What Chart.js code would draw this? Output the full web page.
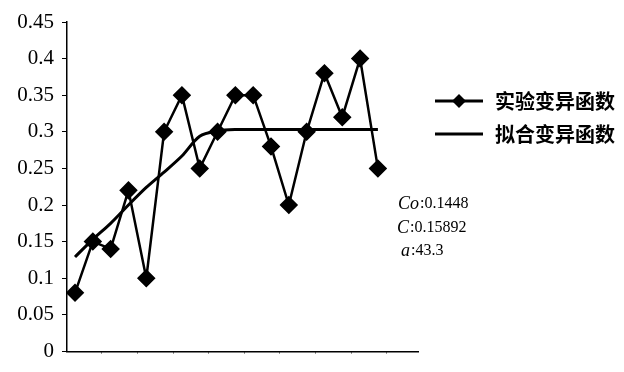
<!DOCTYPE html>
<html>
<head>
<meta charset="utf-8">
<script src="https://cdn.jsdelivr.net/npm/chart.js@4.4.0/dist/chart.umd.min.js"></script>
<style>
  html, body { margin: 0; padding: 0; background: #fff; }
  #wrap { width: 624px; height: 372px; }
</style>
</head>
<body>
<div id="wrap"><canvas id="myChart" width="624" height="372"></canvas></div>
<script>
// lag index of each point
const lags = [1, 2, 3, 4, 5, 6, 7, 8, 9, 10, 11, 12, 13, 14, 15, 16, 17, 18]
// experimental variogram values
const experimental = [0.08, 0.15, 0.14, 0.22, 0.10, 0.30, 0.35, 0.25, 0.30, 0.35, 0.35, 0.28, 0.20, 0.30, 0.38, 0.32, 0.40, 0.25]
// fitted curve
const fitted = [0.129, 0.153, 0.175, 0.200, 0.224, 0.245, 0.267, 0.294, 0.301, 0.303, 0.303, 0.303, 0.303, 0.303, 0.303, 0.303, 0.303, 0.303]
const seriesNames = ['实验变异函数', '拟合变异函数']
const yTicks = [0, 0.05, 0.1, 0.15, 0.2, 0.25, 0.3, 0.35, 0.4, 0.45]
const xTicks = [2.5, 4.5, 6.5, 8.5, 10.5, 12.5, 14.5, 16.5, 18.5]
const params = [['Co', ':0.1448'], ['C', ':0.15892'], ['a', ':43.3']]

const serif = '"Liberation Serif", "DejaVu Serif", serif'
const cjk = '"Noto Sans CJK SC", sans-serif'

// legend + parameter text drawn beside the plot
const sidePlugin = {
    id: 'side',
    afterDraw(chart) {
        const ctx = chart.ctx
        ctx.save()
        ctx.strokeStyle = '#000'
        ctx.fillStyle = '#000'
        // legend rows
        const rows = [101, 134]
        rows.forEach((y, i) => {
            ctx.lineWidth = 3
            ctx.beginPath()
            ctx.moveTo(435, y)
            ctx.lineTo(483, y)
            ctx.stroke()
            if (i === 0) {
                ctx.beginPath()
                ctx.moveTo(459, y - 7)
                ctx.lineTo(466, y)
                ctx.lineTo(459, y + 7)
                ctx.lineTo(452, y)
                ctx.closePath()
                ctx.fill()
            }
            ctx.font = 'bold 20px ' + cjk
            ctx.textBaseline = 'middle'
            ctx.textAlign = 'left'
            ctx.fillText(seriesNames[i], 495, y)
        })
        // model parameters
        const lineY = [204, 228, 251]
        const lineX = [398, 397, 401]
        params.forEach((p, i) => {
            ctx.font = 'italic 18px ' + serif
            ctx.textBaseline = 'middle'
            ctx.fillText(p[0], lineX[i], lineY[i])
            const w = ctx.measureText(p[0]).width
            ctx.font = '16px ' + serif
            ctx.fillText(p[1], lineX[i] + w + 1, lineY[i])
        })
        ctx.restore()
    }
}

new Chart(document.getElementById('myChart'), {
    type: 'line',
    data: {
        datasets: [{
            label: seriesNames[0],
            data: lags.map((x, i) => ({ x: x, y: experimental[i] })),
            borderColor: '#000',
            backgroundColor: '#000',
            borderWidth: 2.5,
            pointStyle: 'rectRot',
            pointRadius: 7.5,
            pointHoverRadius: 7.5,
            tension: 0
        }, {
            label: seriesNames[1],
            data: lags.map((x, i) => ({ x: x, y: fitted[i] })),
            borderColor: '#000',
            borderWidth: 3,
            pointRadius: 0,
            tension: 0.3
        }]
    },
    options: {
        responsive: false,
        animation: false,
        layout: { padding: { top: 22, right: 206, left: 0, bottom: 0 } },
        plugins: { legend: { display: false }, tooltip: { enabled: false } },
        scales: {
            x: {
                type: 'linear',
                min: 0.55,
                max: 20.25,
                afterBuildTicks: (scale) => { scale.ticks = xTicks.map(v => ({ value: v })) },
                afterFit: (scale) => { scale.height = 9 },
                ticks: { display: false },
                grid: { drawOnChartArea: false, tickLength: 2, color: '#000', lineWidth: 1 },
                border: { color: '#000', width: 1.5 }
            },
            y: {
                min: 0,
                max: 0.45,
                afterBuildTicks: (scale) => { scale.ticks = yTicks.map(v => ({ value: v })) },
                afterFit: (scale) => { scale.width = 67 },
                ticks: {
                    color: '#000',
                    padding: 8,
                    font: { family: serif, size: 21 },
                    callback: (v) => String(+v.toFixed(2))
                },
                grid: { drawOnChartArea: false, tickLength: 5, color: '#000', lineWidth: 1 },
                border: { color: '#000', width: 1.5 }
            }
        }
    },
    plugins: [sidePlugin]
})
</script>
</body>
</html>
